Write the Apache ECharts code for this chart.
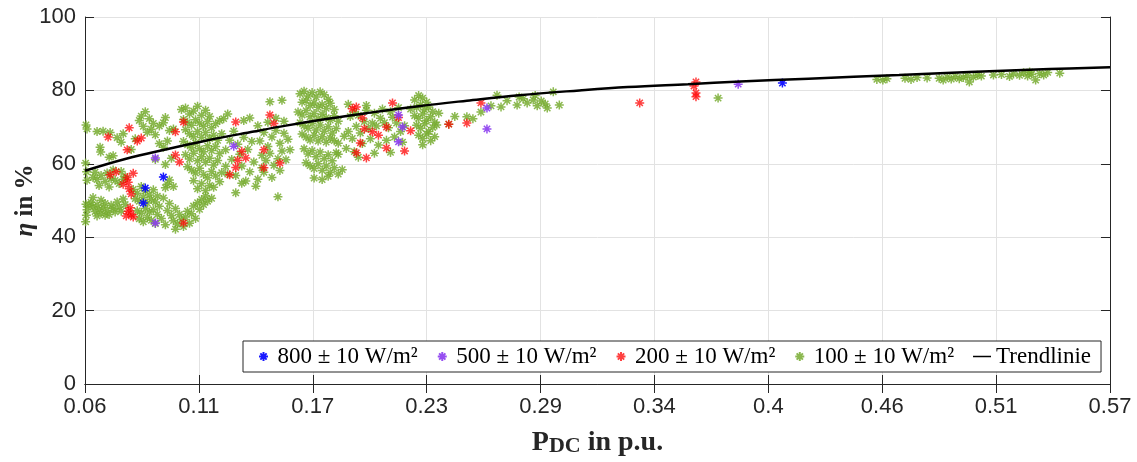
<!DOCTYPE html>
<html>
<head>
<meta charset="utf-8">
<script src="https://cdn.jsdelivr.net/npm/echarts@6/dist/echarts.min.js"></script>
<style>html,body{margin:0;padding:0;background:#fff;}#c{width:1137px;height:462px;}</style>
</head>
<body>
<div id="c"></div>
<script>
// ---- tick labels ----
const xTickValues = [0.06, 0.116667, 0.173333, 0.23, 0.286667, 0.343333, 0.4, 0.456667, 0.513333, 0.57];
const xTickLabels = ['0.06','0.11','0.17','0.23','0.29','0.34','0.4','0.46','0.51','0.57'];
const yTickLabels = ['0','20','40','60','80','100'];

// ---- series data: [P_DC (p.u.), eta (%)] ----
const s800 = [[0.099,56.4],[0.089,49.3],[0.090,53.4],[0.407,82.0]];
const s500 = [[0.095,61.6],[0.095,43.9],[0.134,64.8],[0.216,73.3],[0.218,70.0],[0.216,66.0],[0.260,75.2],[0.260,69.5],[0.385,81.7]];
const s200 = [[0.0715,67.3],[0.082,69.8],[0.088,67.0],[0.086,66.2],[0.0755,57.8],[0.0725,57.0],[0.081,56.3],[0.0815,55.0],[0.082,53.2],[0.083,51.8],[0.0825,48.0],[0.0815,47.1],[0.083,46.2],[0.084,45.5],[0.0805,45.8],[0.079,54.4],[0.084,57.4],[0.081,63.8],[0.109,71.4],[0.105,68.7],[0.105,62.4],[0.107,60.5],[0.109,43.9],[0.135,59.0],[0.132,57.0],[0.136,61.0],[0.135,71.4],[0.140,61.6],[0.138,63.4],[0.152,73.3],[0.154,71.0],[0.149,63.8],[0.157,60.2],[0.149,58.9],[0.195,75.5],[0.193,75.0],[0.213,76.6],[0.198,72.5],[0.203,68.7],[0.199,69.5],[0.210,70.0],[0.216,72.6],[0.197,65.7],[0.195,63.0],[0.200,61.6],[0.210,64.3],[0.219,63.5],[0.222,69.0],[0.206,67.8],[0.241,70.8],[0.250,71.1],[0.257,76.6],[0.336,76.6],[0.364,82.3],[0.363,81.2],[0.364,79.3],[0.364,78.3]];
const s100 = [
[0.0605,70.6],[0.061,69.5],[0.0603,60.2],[0.0608,57.8],[0.061,55.5],[0.0605,49.0],[0.061,47.5],[0.0607,46.0],[0.0603,44.2],[0.062,48.6],
[0.066,68.8],[0.069,68.9],[0.0725,68.5],[0.076,67.1],[0.0675,64.5],[0.0678,63.2],[0.072,61.8],[0.074,62.2],[0.078,65.9],[0.079,68.2],
[0.064,56.3],[0.066,55.7],[0.068,56.8],[0.070,55.2],[0.071,57.5],[0.073,56.0],[0.075,55.5],[0.077,54.6],[0.079,55.8],[0.067,54.1],[0.072,53.7],[0.078,57.9],[0.080,56.5],[0.065,57.7],[0.074,58.3],
[0.063,49.5],[0.064,48.3],[0.065,47.0],[0.066,48.8],[0.067,47.6],[0.068,46.5],[0.069,48.1],[0.070,49.2],[0.071,47.3],[0.072,46.2],[0.073,48.7],[0.074,47.8],[0.075,46.9],[0.076,49.6],[0.077,48.2],[0.078,47.1],[0.079,50.4],[0.080,48.9],[0.066,45.8],[0.070,46.0],[0.064,50.8],[0.068,50.1],
[0.084,53.0],[0.086,52.0],[0.088,53.8],[0.090,52.6],[0.092,51.5],[0.094,52.9],[0.096,51.2],[0.085,50.5],[0.087,49.8],[0.089,50.9],[0.091,49.3],[0.093,50.3],[0.095,49.6],[0.097,48.4],[0.086,47.2],[0.088,46.5],[0.090,47.8],[0.092,46.9],[0.094,47.5],[0.096,46.2],[0.087,45.0],[0.089,44.2],[0.091,45.4],[0.093,44.6],[0.095,43.7],[0.098,45.1],[0.099,50.7],[0.100,53.5],[0.102,55.6],[0.101,54.4],[0.104,53.8],
[0.083,63.9],[0.085,66.8],[0.087,71.8],[0.088,73.0],[0.090,74.2],[0.092,72.3],[0.089,70.2],[0.091,68.6],[0.093,69.4],[0.095,67.9],[0.094,71.0],[0.097,70.3],[0.099,71.2],[0.100,72.6],[0.102,69.1],[0.104,69.5],[0.097,65.5],[0.099,64.5],[0.101,66.2],[0.095,61.2],[0.103,61.5],[0.100,59.8],
[0.108,74.8],[0.110,75.2],[0.112,73.6],[0.114,74.4],[0.116,75.7],[0.118,73.2],[0.120,74.6],[0.122,72.9],[0.109,72.1],[0.111,71.3],[0.113,70.5],[0.115,72.0],[0.117,71.1],[0.119,70.2],[0.121,71.5],[0.123,69.8],[0.125,70.9],[0.127,71.8],[0.110,69.3],[0.112,68.2],[0.114,67.4],[0.116,68.8],[0.118,67.2],[0.120,68.5],[0.122,66.9],[0.124,67.8],[0.126,66.4],[0.128,68.2],[0.109,66.1],[0.111,65.2],[0.113,64.4],[0.115,65.7],[0.117,64.1],[0.119,63.3],[0.121,64.9],[0.123,63.6],[0.125,64.7],[0.127,62.8],[0.110,62.5],[0.112,61.3],[0.114,62.9],[0.116,60.8],[0.118,61.9],[0.120,60.4],[0.122,61.5],[0.124,59.7],[0.126,60.9],[0.111,59.2],[0.113,58.3],[0.115,57.5],[0.117,58.8],[0.119,57.1],[0.121,56.2],[0.123,57.9],[0.125,56.7],[0.114,55.4],[0.118,54.6],[0.122,54.1],[0.116,53.2],[0.120,52.7],[0.124,53.6],[0.128,57.6],[0.130,59.3],
[0.101,47.3],[0.103,45.9],[0.104,44.5],[0.105,47.8],[0.106,43.6],[0.107,46.2],[0.108,44.8],[0.109,42.9],[0.110,45.5],[0.111,47.1],[0.112,43.8],[0.113,46.4],[0.114,48.5],[0.115,45.1],[0.116,49.4],[0.117,47.6],[0.118,50.3],[0.119,48.9],[0.120,51.2],[0.121,49.8],[0.123,50.6],[0.105,42.2],[0.100,43.4],[0.102,49.2],
[0.130,63.8],[0.132,66.4],[0.133,61.2],[0.134,68.9],[0.135,56.8],[0.136,65.3],[0.137,62.6],[0.138,59.4],[0.139,67.2],[0.140,55.3],[0.141,63.9],[0.142,57.8],[0.143,66.1],[0.144,60.5],[0.145,53.9],[0.131,57.2],[0.129,72.3],[0.131,73.6],[0.139,71.8],[0.142,72.5],[0.146,70.4],[0.135,52.1],[0.138,54.7],[0.127,55.1],
[0.147,66.2],[0.149,68.5],[0.151,64.7],[0.153,67.3],[0.155,69.1],[0.157,65.6],[0.159,68.3],[0.161,66.7],[0.148,62.3],[0.150,60.9],[0.152,62.8],[0.154,59.6],[0.156,61.4],[0.158,63.5],[0.160,61.1],[0.149,57.7],[0.153,56.3],[0.157,58.2],[0.146,55.8],[0.151,71.3],[0.155,72.4],[0.159,71.6],[0.152,76.9],[0.158,77.3],[0.156,51.0],[0.162,63.8],[0.148,58.9],
[0.167,79.1],[0.169,79.8],[0.171,78.5],[0.173,79.4],[0.175,78.2],[0.177,79.6],[0.179,78.8],[0.181,77.6],[0.168,76.8],[0.170,77.3],[0.172,75.9],[0.174,76.6],[0.176,75.4],[0.178,76.2],[0.180,75.1],[0.182,76.5],[0.184,74.8],[0.166,74.1],[0.168,73.3],[0.170,74.5],[0.172,72.8],[0.174,73.7],[0.176,72.2],[0.178,73.5],[0.180,72.6],[0.182,71.9],[0.184,73.1],[0.186,71.6],[0.167,71.2],[0.169,70.4],[0.171,69.7],[0.173,71.0],[0.175,69.2],[0.177,70.6],[0.179,68.9],[0.181,70.1],[0.183,68.4],[0.185,69.6],[0.168,68.1],[0.170,67.3],[0.172,66.5],[0.174,67.8],[0.176,66.2],[0.178,67.4],[0.180,65.9],[0.182,67.0],[0.184,66.3],[0.186,65.6],
[0.169,64.1],[0.171,62.7],[0.173,63.6],[0.175,61.9],[0.177,63.2],[0.179,61.4],[0.181,62.5],[0.183,60.8],[0.185,63.0],[0.170,60.3],[0.172,59.5],[0.174,58.7],[0.176,60.0],[0.178,58.2],[0.180,59.4],[0.182,57.6],[0.184,58.9],[0.186,57.2],[0.174,56.1],[0.178,55.7],[0.181,56.6],
[0.189,67.5],[0.191,68.8],[0.193,66.9],[0.195,70.2],[0.197,68.4],[0.199,71.5],[0.201,69.6],[0.203,71.1],[0.205,70.3],[0.207,72.4],[0.209,71.2],[0.211,69.8],[0.213,72.7],[0.215,71.1],[0.217,68.8],[0.219,70.4],[0.192,72.9],[0.194,74.1],[0.196,73.2],[0.200,74.6],[0.204,73.8],[0.208,74.9],[0.212,74.2],[0.216,75.3],[0.190,64.2],[0.194,63.3],[0.198,65.5],[0.202,66.8],[0.206,65.1],[0.210,66.4],[0.214,67.3],[0.218,65.9],[0.196,61.8],[0.204,62.9],[0.212,63.1],[0.188,58.4],[0.186,62.6],[0.200,75.9],[0.191,76.2],
[0.224,77.4],[0.226,78.6],[0.228,77.9],[0.230,76.8],[0.225,75.3],[0.227,76.1],[0.229,74.7],[0.231,75.5],[0.233,74.2],[0.224,73.1],[0.226,72.4],[0.228,73.6],[0.230,71.9],[0.232,72.8],[0.234,71.3],[0.225,70.5],[0.227,69.7],[0.229,70.9],[0.231,68.8],[0.233,69.9],[0.235,70.6],[0.226,67.8],[0.228,66.9],[0.230,68.1],[0.232,66.3],[0.234,67.4],[0.228,65.2],[0.236,73.8],[0.222,74.9],
[0.241,70.8],[0.250,72.8],[0.253,72.3],[0.257,74.1],[0.262,75.8],[0.265,78.7],[0.267,75.5],[0.270,77.2],[0.275,76.0],[0.276,78.2],[0.280,76.6],[0.283,77.4],[0.285,75.8],[0.287,77.1],[0.289,76.3],[0.284,78.6],[0.290,75.2],[0.293,79.6],[0.296,76.0],[0.278,77.7],[0.244,72.9],
[0.375,77.9],[0.454,83.0],[0.457,82.8],[0.459,83.2],[0.468,83.3],[0.471,83.0],[0.474,83.5],[0.479,83.4],[0.485,83.3],[0.487,82.8],[0.489,83.6],[0.491,83.1],[0.493,83.8],[0.495,83.2],[0.497,83.5],[0.499,84.0],[0.500,82.3],[0.502,83.6],[0.504,84.1],[0.506,83.9],[0.512,84.2],[0.516,84.3],[0.522,84.5],[0.525,84.1],[0.527,84.8],[0.529,83.9],[0.531,84.4],[0.533,82.8],[0.535,84.6],[0.537,84.2],[0.539,84.9],[0.545,84.7],[0.520,83.8],[0.530,85.0]
];
const trend = [[0.06,58.1],[0.08,61.3],[0.10,63.9],[0.12,66.3],[0.144,68.8],[0.16,70.4],[0.18,72.2],[0.20,73.8],[0.226,75.7],[0.25,77.2],[0.276,78.7],[0.306,80.0],[0.33,80.9],[0.36,81.7],[0.386,82.4],[0.42,83.2],[0.465,84.2],[0.50,85.0],[0.54,85.8],[0.57,86.3]];

const seriesNames = ['800 ± 10 W/m²','500 ± 10 W/m²','200 ± 10 W/m²','100 ± 10 W/m²','Trendlinie'];

const AST = 'path://M0,5L10,5M5,0L5,10M1.5,1.5L8.5,8.5M8.5,1.5L1.5,8.5';
const AXC = '#262626';
const GRIDC = '#e2e2e2';

function scatter(name, data, color, op) {
  return {
    name: name, type: 'scatter', data: data, xAxisIndex: 0, yAxisIndex: 0,
    symbol: AST, symbolSize: 9,
    itemStyle: { color: 'rgba(0,0,0,0)', borderColor: color, borderWidth: 1.5, opacity: op },
    emphasis: { disabled: true }, z: 2, animation: false
  };
}

function xLabel(v) {
  let best = 0, d = 1e9;
  for (let i = 0; i < xTickValues.length; i++) {
    const dd = Math.abs(xTickValues[i] - v);
    if (dd < d) { d = dd; best = i; }
  }
  return xTickLabels[best];
}

const chart = echarts.init(document.getElementById('c'), null, { renderer: 'canvas' });
chart.setOption({
  animation: false,
  backgroundColor: '#fff',
  grid: { left: 85, right: 27, top: 17, bottom: 78, outerBoundsMode: 'none', containLabel: false },
  legend: {
    left: 243, top: 341,
    data: [
      { name: seriesNames[0] },
      { name: seriesNames[1] },
      { name: seriesNames[2] },
      { name: seriesNames[3] },
      { name: seriesNames[4], icon: 'path://M0,0L30,0L30,2.5L0,2.5Z', itemStyle: { color: '#000', borderWidth: 0 } }
    ],
    orient: 'horizontal',
    itemWidth: 18, itemHeight: 9, itemGap: 19,
    padding: [4, 10, 4, 15],
    backgroundColor: '#fff', borderColor: AXC, borderWidth: 1, borderRadius: 0,
    textStyle: { fontFamily: 'Liberation Serif', fontSize: 23, color: '#000' },
    selectedMode: false
  },
  xAxis: [{
    type: 'value', min: 0.06, max: 0.57, position: 'bottom',
    name: '{b|P}{s|DC}{b| in p.u.}', nameLocation: 'middle', nameGap: 45, nameMoveOverlap: false,
    nameTextStyle: {
      rich: {
        b: { fontFamily: 'Liberation Serif', fontWeight: 'bold', fontSize: 28, lineHeight: 28, color: AXC, verticalAlign: 'top' },
        s: { fontFamily: 'Liberation Serif', fontWeight: 'bold', fontSize: 22, lineHeight: 22, color: AXC, verticalAlign: 'bottom', padding: [17, 0, 0, 0] }
      }
    },
    axisLine: { show: true, lineStyle: { color: AXC, width: 1 } },
    axisTick: { show: true, inside: true, length: 9, customValues: xTickValues, lineStyle: { color: AXC } },
    axisLabel: { customValues: xTickValues, formatter: xLabel, fontFamily: 'Liberation Sans', fontSize: 22, color: AXC, margin: 12 },
    splitLine: { show: true, lineStyle: { color: GRIDC, width: 1 } }
  }, {
    type: 'value', min: 0.06, max: 0.57, position: 'top',
    axisLine: { show: true, lineStyle: { color: AXC, width: 1 } },
    axisTick: { show: true, inside: true, length: 9, customValues: xTickValues, lineStyle: { color: AXC } },
    axisLabel: { show: false },
    splitLine: { show: false }
  }],
  yAxis: [{
    type: 'value', min: 0, max: 100, interval: 20, position: 'left',
    name: '{i|η}{b| in %}', nameLocation: 'middle', nameGap: 47, nameRotate: 90, nameMoveOverlap: false,
    nameTextStyle: {
      rich: {
        i: { fontFamily: 'Liberation Serif', fontStyle: 'italic', fontWeight: 'bold', fontSize: 25, color: AXC },
        b: { fontFamily: 'Liberation Serif', fontWeight: 'bold', fontSize: 25, color: AXC }
      }
    },
    axisLine: { show: true, lineStyle: { color: AXC, width: 1 } },
    axisTick: { show: true, inside: true, length: 9, lineStyle: { color: AXC } },
    axisLabel: { formatter: function (v) { return yTickLabels[Math.round(v / 20)]; }, fontFamily: 'Liberation Sans', fontSize: 22, color: AXC, margin: 9 },
    splitLine: { show: true, lineStyle: { color: GRIDC, width: 1 } }
  }, {
    type: 'value', min: 0, max: 100, interval: 20, position: 'right',
    axisLine: { show: true, lineStyle: { color: AXC, width: 1 } },
    axisTick: { show: true, inside: true, length: 9, lineStyle: { color: AXC } },
    axisLabel: { show: false },
    splitLine: { show: false }
  }],
  series: [
    scatter(seriesNames[3], s100, '#77AC30', 0.85),
    scatter(seriesNames[2], s200, '#FF0000', 0.75),
    scatter(seriesNames[1], s500, '#8B3CF0', 0.9),
    scatter(seriesNames[0], s800, '#0000FF', 0.9),
    {
      name: seriesNames[4], type: 'line', data: trend, smooth: 0.4, showSymbol: false, symbol: 'none',
      lineStyle: { color: '#000', width: 2.5 }, itemStyle: { color: '#000' }, z: 5, animation: false,
      emphasis: { disabled: true }
    }
  ]
});
</script>
</body>
</html>
